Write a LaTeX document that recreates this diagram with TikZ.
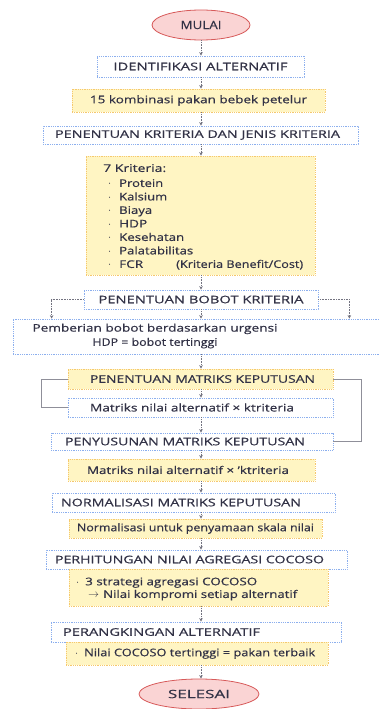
\documentclass[tikz,border=0pt]{standalone}
\usepackage{fontspec}
\setmainfont[FakeBold=0.5]{Open Sans}
\usepackage{xcolor}
\usepackage{graphicx}
\usetikzlibrary{shapes.geometric, arrows.meta, positioning}

\definecolor{boxblue}{RGB}{140,175,238}
\definecolor{boxorange}{RGB}{245,200,110}
\definecolor{boxyellow}{RGB}{255,245,195}
\definecolor{termred}{RGB}{215,90,90}
\definecolor{termfill}{RGB}{250,212,212}
\definecolor{flowgray}{RGB}{115,115,128}
\definecolor{textdark}{RGB}{50,50,70}

% stretch a line of text to a given width; optional shift from the box centre
\newcommand{\fitto}[3][0pt]{\hspace*{#1}\resizebox{#2}{\height}{#3}\hspace*{-#1}}
\newcommand{\bul}[1][11pt]{\makebox[#1][l]{$\cdot$}}

\tikzset{
  every node/.style={text=textdark, font=\fontsize{10.5}{13.7}\selectfont},
  stepblue/.style={rectangle, draw=boxblue, densely dotted, line width=0.8pt, fill=white, inner sep=0pt},
  stepyellow/.style={rectangle, draw=boxorange, densely dotted, line width=0.8pt, fill=boxyellow, inner sep=0pt},
  terminal/.style={ellipse, draw=termred, line width=0.8pt, fill=termfill, inner sep=0pt, font=\fontsize{11.5}{13}\selectfont},
  flow/.style={draw=flowgray, densely dotted, line width=0.6pt, -{Stealth[length=3.5pt,width=3.5pt]}},
  loopline/.style={draw=flowgray!80, line width=0.6pt},
}

\begin{document}
\begin{tikzpicture}[x=1pt, y=-1pt]
\useasboundingbox (0,0) rectangle (379,709);
\coordinate (spine) at (201,0);

% start and first steps
\node[terminal, minimum width=98pt, minimum height=30pt] (mulai) at (201,25) {\fitto{41pt}{MULAI}};
\node[stepblue, minimum width=207pt, minimum height=21pt] (ident) at (200.5,66.5) {\fitto{174pt}{IDENTIFIKASI ALTERNATIF}};
\node[stepyellow, minimum width=253pt, minimum height=23pt] (komb) at (198.5,100.5) {\fitto{217pt}{15 kombinasi pakan bebek petelur}};
\node[stepblue, minimum width=315pt, minimum height=18pt] (jenis) at (200.5,135) {\fitto[-3pt]{285pt}{PENENTUAN KRITERIA DAN JENIS KRITERIA}};

% criteria list
\node[stepyellow, minimum width=229pt, minimum height=119pt] (krit) at (200.5,215.5) {};
\node[anchor=north west, align=left, inner sep=0pt, font=\fontsize{10.5}{13.5}\selectfont] (kritlist) at (103,164) {\fitto{63pt}{7 Kriteria:}\\[1.5pt]
  \hspace*{5pt}\bul\fitto{44pt}{Protein}\\
  \hspace*{5pt}\bul\fitto{48pt}{Kalsium}\\
  \hspace*{5pt}\bul\fitto{33pt}{Biaya}\\
  \hspace*{5pt}\bul\fitto{28pt}{HDP}\\
  \hspace*{5pt}\bul\fitto{65pt}{Kesehatan}\\
  \hspace*{5pt}\bul\fitto{74pt}{Palatabilitas}\\
  \hspace*{5pt}\bul\makebox[57pt][l]{\fitto{24pt}{FCR}}\fitto{127pt}{(Kriteria Benefit/Cost)}};

% weights
\node[stepblue, minimum width=234pt, minimum height=19pt] (bobot) at (201,299.5) {\fitto{205pt}{PENENTUAN BOBOT KRITERIA}};
\node[stepblue, minimum width=368pt, minimum height=35pt] (beri) at (197,336.5) {};
\node[align=center, inner sep=0pt] (beritext) at (155,336) {\fitto{245pt}{Pemberian bobot berdasarkan urgensi}\\[0.5pt]\fitto{125pt}{HDP = bobot tertinggi}};

% decision matrix
\node[stepyellow, minimum width=265pt, minimum height=20pt] (matriks) at (200.5,379) {\fitto[2pt]{225pt}{PENENTUAN MATRIKS KEPUTUSAN}};
\node[stepblue, minimum width=265pt, minimum height=19pt] (nilaia) at (200.5,407.5) {\fitto[-8.5pt]{204pt}{Matriks nilai alternatif × ktriteria}};
\node[stepblue, minimum width=282pt, minimum height=17pt] (susun) at (192,441.5) {\fitto[-7pt]{240pt}{PENYUSUNAN MATRIKS KEPUTUSAN}};
\node[stepyellow, minimum width=247pt, minimum height=22pt] (nilaib) at (191.5,470) {\fitto[-3.5pt]{202pt}{Matriks nilai alternatif × 'ktriteria}};

% normalisation and aggregation
\node[stepblue, minimum width=283pt, minimum height=19pt] (norm) at (193.5,502.5) {\fitto[-12.5pt]{240pt}{NORMALISASI MATRIKS KEPUTUSAN}};
\node[stepyellow, minimum width=253pt, minimum height=19pt] (normket) at (195.5,528.5) {\fitto{237pt}{Normalisasi untuk penyamaan skala nilai}};
\node[stepblue, minimum width=301pt, minimum height=19pt] (hitung) at (196.5,559.5) {\fitto[-7pt]{269pt}{PERHITUNGAN NILAI AGREGASI COCOSO}};
\node[stepyellow, minimum width=259pt, minimum height=37pt] (strategi) at (198.5,587.5) {};
\node[anchor=west, align=left, inner sep=0pt] (strategitext) at (76,589) {\bul[9pt]\fitto{172pt}{3 strategi agregasi COCOSO}\\[-1pt]
  \hspace*{12pt}\makebox[15pt][l]{$\rightarrow$}\fitto{194pt}{Nilai kompromi setiap alternatif}};

% ranking and end
\node[stepblue, minimum width=290pt, minimum height=20pt] (rangking) at (196,632) {\fitto[-34.5pt]{197pt}{PERANGKINGAN ALTERNATIF}};
\node[stepyellow, minimum width=262pt, minimum height=23pt] (terbaik) at (197,653.5) {};
\node[anchor=west, inner sep=0pt] (terbaiktext) at (75,653.5) {\bul[9pt]\fitto{231pt}{Nilai COCOSO tertinggi = pakan terbaik}};
\node[terminal, minimum width=120pt, minimum height=30pt] (selesai) at (199,694) {\fitto{62pt}{SELESAI}};

% main flow
\draw[flow] (mulai.south -| spine) -- (ident.north -| spine);
\draw[flow] (ident.south -| spine) -- (komb.north -| spine);
\draw[flow] (komb.south -| spine) -- (jenis.north -| spine);
\draw[flow] (jenis.south -| spine) -- (krit.north -| spine);
\draw[flow] (krit.south -| spine) -- (bobot.north -| spine);
\draw[flow] (bobot.south -| spine) -- (beri.north -| spine);
\draw[flow] (bobot.west) -- ++(-32,0) coordinate (bl) -- (bl |- beri.north);
\draw[flow] (bobot.east) -- ++(31,0) coordinate (br) -- (br |- beri.north);
\draw[flow] (beri.south -| spine) -- (matriks.north -| spine);
\draw[flow] (matriks.south -| spine) -- (nilaia.north -| spine);
\draw[flow] (nilaia.south -| spine) -- (susun.north -| spine);
\draw[flow] (susun.south -| spine) -- (nilaib.north -| spine);
\draw[flow] (nilaib.south -| spine) -- (norm.north -| spine);
\draw[flow] (norm.south -| spine) -- (normket.north -| spine);
\draw[flow] (normket.south -| spine) -- (hitung.north -| spine);
\draw[flow] (strategi.south -| spine) -- (rangking.north -| spine);
\draw[flow] (terbaik.south -| spine) -- (selesai.north -| spine);

% loops round the matrix steps
\draw[loopline] (matriks.west) -- ++(-26,0) |- (nilaia.west);
\draw[loopline] (matriks.east) -- ++(28,0) |- (susun.east);
\end{tikzpicture}
\end{document}
